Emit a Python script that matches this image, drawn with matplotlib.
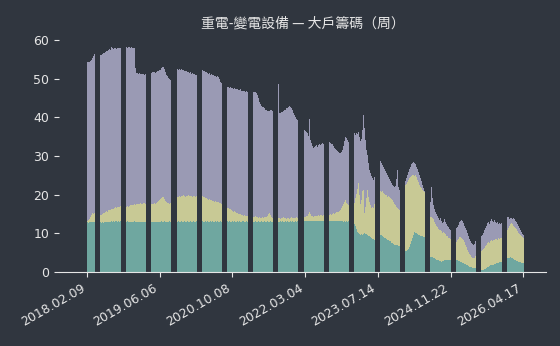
import matplotlib
matplotlib.use("Agg")
import matplotlib.pyplot as plt
import numpy as np

# weekly holder share (%), cumulative: top = all three groups, mid = two, base = largest holders
top_total = [
    54.2, 54.3, 54.4, 54.6, 54.9, 55.4, 55.9, 56.4, 56.2, 56.0,
    56.1, 56.3, 56.2, 56.1, 56.4, 56.7, 56.6, 56.9, 57.1, 57.0,
    57.3, 57.6, 57.4, 58.1, 57.9, 57.7, 57.8, 58.0, 57.6, 57.9,
    57.8, 58.0, 57.8, 57.9, 58.0, 58.1, 58.0, 58.1, 58.0, 58.1,
    58.2, 58.0, 58.1, 57.9, 58.0, 57.8, 52.6, 51.4, 51.5, 51.3,
    51.4, 51.2, 51.3, 51.1, 51.2, 51.0, 51.1, 51.0, 51.2, 51.5,
    51.6, 51.5, 51.7, 51.6, 51.8, 51.5, 51.7, 51.9, 52.0, 52.3,
    52.1, 52.6, 52.9, 53.1, 52.4, 51.6, 51.0, 50.6, 50.2, 49.8,
    49.5, 49.3, 49.6, 50.4, 51.5, 52.0, 52.4, 52.3, 52.5, 52.2,
    52.4, 52.1, 52.3, 52.0, 51.9, 52.0, 51.7, 51.8, 51.5, 51.6,
    51.3, 51.4, 51.1, 51.2, 50.9, 51.0, 50.9, 51.5, 52.0, 52.2,
    52.2, 52.0, 51.9, 51.7, 51.8, 51.5, 51.3, 51.4, 51.0, 51.1,
    50.8, 50.9, 50.6, 50.7, 50.5, 50.6, 50.5, 49.8, 49.2, 48.8,
    48.5, 48.3, 48.1, 47.9, 47.8, 47.7, 47.6, 47.8, 47.5, 47.6,
    47.4, 47.5, 47.3, 47.2, 47.4, 47.1, 47.0, 47.2, 46.9, 46.8,
    46.7, 46.8, 46.6, 46.7, 46.6, 46.5, 46.6, 46.4, 46.5,
    46.5, 46.4, 46.6, 46.3, 45.8, 44.9, 43.9, 43.3, 42.9, 42.6,
    42.7, 42.3, 42.0, 41.8, 41.6, 41.7, 41.5, 41.8, 41.9, 41.6,
    41.3, 41.1, 41.0, 40.9, 48.6, 41.0, 41.2, 41.4, 41.3, 41.6,
    41.8, 42.0, 42.3, 42.5, 42.6, 42.8, 42.6, 42.3, 41.8, 41.2,
    40.6, 40.1, 39.6, 39.4, 39.3, 38.6, 38.0, 37.4, 37.0, 36.7,
    36.5, 36.2, 35.8, 35.1, 39.5, 34.2, 33.3, 32.6, 32.0, 32.3,
    32.5, 32.7, 32.4, 32.8, 33.0, 32.8, 33.1, 33.3, 33.0, 33.4,
    33.6, 33.5, 33.7, 33.6, 33.4, 33.2, 33.0, 32.5, 32.1, 31.8,
    31.6, 31.3, 31.1, 30.8, 30.7, 30.9, 31.5, 32.6, 33.8, 35.0,
    34.6, 34.0, 33.6, 33.3, 33.8, 34.5, 35.2, 35.9, 35.4, 36.0,
    35.6, 36.3, 34.8, 33.9, 34.5, 36.8, 40.6, 37.2, 34.0, 31.5,
    30.2, 28.3, 26.4, 25.5, 24.8, 24.2, 23.8, 24.5, 26.0, 27.5,
    28.5, 29.0, 28.6, 28.2, 27.6, 27.2, 26.6, 26.0, 25.5, 25.1,
    24.6, 24.0, 23.5, 23.0, 22.6, 22.3, 22.0, 22.2, 24.0, 26.4,
    22.0, 21.2, 21.8, 22.5, 23.0, 23.4, 23.6, 24.2, 25.0, 25.8,
    26.5, 27.2, 27.8, 28.3, 28.5, 28.3, 27.9, 27.2, 26.5, 25.8,
    25.0, 24.2, 23.4, 22.6, 21.8, 21.0, 20.8, 19.5, 18.8, 18.4,
    18.2, 22.0, 19.0, 17.3, 16.4, 15.6, 15.1, 14.6, 14.0, 13.4,
    13.9, 13.2, 12.7, 13.0, 13.6, 13.0, 12.5, 12.0, 11.6, 11.1,
    10.9, 11.0, 11.2, 11.0, 11.3, 11.3, 11.6, 12.2, 12.8, 13.1,
    13.4, 13.2, 12.6, 12.0, 11.3, 10.8, 10.0, 9.3, 8.6, 8.0,
    7.5, 7.2, 7.0, 7.3, 8.0, 8.6, 9.0, 9.1, 9.1, 9.3,
    9.6, 10.2, 10.8, 11.4, 12.0, 12.6, 13.0, 12.5, 13.3, 13.6,
    13.2, 12.8, 13.4, 12.9, 12.6, 12.8, 12.5, 12.7, 12.4, 12.6,
    12.8, 13.2, 13.6, 14.0, 14.3, 14.1, 13.8, 14.0, 13.9, 13.7,
    13.9, 13.6, 13.3, 12.8, 12.3, 11.8, 11.3, 10.8, 10.3, 9.9,
    9.5,
]

mid_total = [
    13.2, 13.4, 13.8, 14.3, 14.8, 15.2, 15.0, 15.3, 15.1, 14.9,
    14.8, 14.7, 14.8, 14.7, 15.0, 15.3, 15.2, 15.5, 15.7, 15.6,
    15.9, 16.1, 16.0, 16.3, 16.4, 16.2, 16.6, 16.8, 16.5, 16.9,
    16.8, 16.9, 17.0, 16.8, 16.9, 16.7, 16.8, 16.9, 17.0, 16.9,
    17.1, 17.3, 17.2, 17.4, 17.3, 17.5, 17.4, 17.6, 17.5, 17.7,
    17.6, 17.8, 17.5, 17.7, 17.9, 17.8, 17.6, 17.7, 17.9, 17.8,
    17.8, 17.6, 17.7, 17.5, 17.8, 17.6, 17.9, 18.1, 18.3, 18.6,
    18.9, 19.2, 19.5, 19.3, 18.8, 18.4, 18.1, 17.9, 17.8, 17.7,
    17.8, 17.9, 18.2, 18.6, 19.0, 19.3, 19.5, 19.4, 19.6, 19.5,
    19.7, 19.6, 19.8, 19.7, 19.5, 19.7, 19.6, 19.8, 19.7, 19.6,
    19.7, 19.5, 19.6, 19.7, 19.5, 19.6, 19.7, 19.6, 19.8, 19.7,
    19.7, 19.5, 19.3, 19.1, 19.2, 18.9, 18.7, 18.8, 18.5, 18.6,
    18.4, 18.3, 18.2, 18.3, 18.1, 18.2, 18.0, 17.9, 17.8, 17.7,
    17.6, 17.3, 17.0, 16.8, 16.6, 16.5, 16.3, 16.4, 16.0, 15.8,
    15.6, 15.7, 15.4, 15.2, 15.3, 15.0, 14.9, 15.1, 14.8, 14.7,
    14.6, 14.7, 14.5, 14.6, 14.4, 14.5, 14.3, 14.4, 14.3,
    14.3, 14.2, 14.4, 14.1, 14.2, 14.0, 14.1, 13.9, 14.0, 14.1,
    14.0, 14.2, 14.1, 14.3, 14.6, 15.0, 15.3, 14.8, 14.3, 14.0,
    13.9, 14.0, 13.8, 13.9, 14.0, 13.9, 13.8, 14.0, 13.9, 14.1,
    13.9, 14.0, 13.8, 13.9, 14.0, 13.8, 13.9, 14.1, 13.9, 14.0,
    13.9, 14.0, 14.1, 13.9, 14.0, 14.2, 14.1, 14.3, 14.2, 14.3,
    14.2, 14.4, 14.6, 15.0, 15.5, 15.0, 14.6, 14.4, 14.3, 14.5,
    14.4, 14.6, 14.5, 14.7, 14.6, 14.8, 14.7, 14.6, 14.8, 14.7,
    14.6, 14.8, 14.7, 14.7, 14.9, 14.8, 15.0, 15.2, 15.1, 15.3,
    15.5, 15.4, 15.6, 15.8, 16.1, 16.5, 17.0, 17.6, 18.2, 18.6,
    17.9, 17.5, 17.2, 17.0, 17.4, 17.8, 18.3, 17.8, 19.0, 20.2,
    21.5, 23.0, 19.8, 17.6, 18.5, 20.9, 21.2, 15.2, 16.8, 19.0,
    21.2, 19.4, 18.0, 17.2, 16.6, 16.9, 16.5, 17.5, 18.8, 20.0,
    20.8, 21.2, 21.0, 20.7, 20.9, 20.5, 20.2, 20.0, 19.8, 19.5,
    19.6, 19.3, 19.1, 18.8, 18.5, 18.0, 17.5, 17.2, 16.8, 16.5,
    16.2, 16.0, 17.5, 19.5, 21.0, 22.0, 22.5, 22.8, 23.3, 23.8,
    24.2, 24.6, 24.9, 25.0, 25.1, 24.7, 25.1, 24.5, 23.8, 23.2,
    22.6, 22.0, 21.6, 21.2, 20.9, 20.6, 19.0, 17.0, 15.5, 14.8,
    14.3, 14.1, 14.0, 13.6, 13.0, 12.5, 12.0, 11.6, 11.2, 10.9,
    10.8, 10.5, 10.2, 10.4, 10.0, 9.7, 9.4, 9.2, 8.9, 8.7,
    8.5, 8.2, 8.0, 7.9, 7.8, 7.8, 8.2, 8.6, 9.0, 9.1,
    8.9, 8.6, 8.2, 7.7, 7.1, 6.4, 5.8, 5.2, 4.7, 4.3,
    4.0, 3.7, 3.5, 3.6, 4.1, 4.6, 5.0, 5.2, 5.3, 5.3,
    5.6, 5.9, 6.3, 6.8, 7.1, 7.5, 7.8, 7.6, 8.0, 8.3,
    8.1, 8.4, 8.2, 8.5, 8.6, 8.4, 8.7, 8.5, 8.7, 8.7,
    9.2, 9.8, 10.3, 10.7, 10.9, 11.4, 11.9, 12.3, 12.6, 12.4,
    12.0, 11.7, 11.4, 11.0, 10.6, 10.2, 9.8, 9.6, 9.3, 9.0,
    8.8,
]

base = [
    12.8, 12.7, 12.9, 12.8, 12.9, 13.0, 12.9, 13.0, 12.9, 13.0,
    12.9, 12.8, 12.9, 12.7, 12.8, 12.7, 12.8, 12.9, 12.8, 12.9,
    13.0, 12.9, 13.0, 13.1, 13.0, 13.1, 13.0, 13.2, 13.1, 13.0,
    13.1, 13.0, 13.1, 13.0, 12.9, 13.0, 13.1, 13.0, 13.1, 13.0,
    12.9, 13.0, 13.0, 12.9, 13.0, 13.1, 13.0, 12.9, 13.0, 12.9,
    13.0, 12.9, 13.0, 12.9, 13.0, 12.9, 12.9, 13.0, 12.9, 13.0,
    12.9, 13.0, 13.0, 12.9, 13.0, 12.9, 13.0, 13.0, 12.9, 13.0,
    13.0, 13.1, 13.0, 13.0, 13.1, 13.0, 12.9, 13.0, 13.0, 13.1,
    13.0, 13.1, 13.0, 13.0, 13.1, 13.0, 13.0, 13.1, 13.0, 13.0,
    13.1, 13.0, 13.0, 13.1, 13.0, 13.0, 13.1, 13.0, 13.0, 13.1,
    13.0, 13.0, 13.1, 13.0, 13.0, 13.1, 13.0, 13.0, 13.1, 13.0,
    13.1, 13.0, 13.0, 13.1, 13.0, 13.1, 13.0, 13.0, 13.1, 13.0,
    13.1, 13.0, 13.0, 13.1, 13.0, 13.1, 13.0, 13.0, 13.1, 13.0,
    13.0, 13.1, 13.0, 13.0, 13.1, 13.0, 13.1, 13.0, 13.0, 13.1,
    13.0, 13.1, 13.0, 13.0, 13.1, 13.0, 13.1, 13.0, 13.0, 13.1,
    13.1, 13.0, 13.0, 13.1, 13.0, 13.1, 13.0, 13.0, 13.1,
    13.0, 13.0, 13.1, 13.0, 13.0, 13.1, 13.0, 13.0, 13.1, 13.0,
    13.0, 13.1, 13.0, 13.0, 13.1, 13.0, 13.0, 13.1, 13.0, 13.0,
    13.1, 13.0, 13.0, 13.1, 13.0, 13.0, 13.1, 13.0, 13.1, 13.0,
    13.0, 13.1, 13.0, 13.1, 13.0, 13.0, 13.1, 13.0, 13.1, 13.0,
    13.0, 13.1, 13.0, 13.1, 13.0, 13.1, 13.2, 13.1, 13.2, 13.1,
    13.2, 13.1, 13.2, 13.1, 13.2, 13.1, 13.2, 13.1, 13.2, 13.1,
    13.2, 13.1, 13.2, 13.2, 13.1, 13.2, 13.1, 13.2, 13.1, 13.2,
    13.1, 13.2, 13.1, 13.2, 13.1, 13.2, 13.1, 13.2, 13.1, 13.2,
    13.1, 13.2, 13.1, 13.2, 13.1, 13.2, 13.1, 13.0, 13.1, 13.0,
    13.1, 13.0, 13.1, 13.0, 13.1, 13.0, 13.0, 12.5, 11.8, 11.0,
    10.3, 10.0, 9.8, 9.6, 9.7, 9.5, 9.8, 10.1, 9.9, 9.7,
    9.6, 9.4, 9.2, 9.0, 8.8, 8.6, 8.5, 8.4, 8.8, 9.2,
    9.5, 9.6, 9.6, 9.5, 9.3, 9.0, 8.8, 8.9, 8.6, 8.4,
    8.2, 8.0, 7.9, 7.6, 7.4, 7.3, 7.1, 7.0, 6.9, 7.0,
    6.8, 6.6, 6.2, 5.8, 5.5, 5.3, 5.3, 5.4, 5.6, 5.9,
    6.5, 7.2, 8.0, 8.8, 9.6, 10.4, 10.0, 10.2, 9.8, 9.6,
    9.5, 9.4, 9.3, 9.2, 9.1, 9.1, 8.0, 6.5, 5.2, 4.4,
    4.0, 3.9, 3.8, 3.6, 3.5, 3.4, 3.2, 3.1, 3.0, 2.9,
    2.8, 2.7, 2.8, 2.9, 3.0, 3.1, 3.0, 3.2, 3.1, 3.0,
    3.1, 3.1, 3.0, 3.1, 3.1, 3.1, 3.0, 2.9, 2.8, 2.7,
    2.5, 2.4, 2.3, 2.1, 2.0, 1.8, 1.7, 1.5, 1.4, 1.3,
    1.2, 1.1, 1.0, 1.0, 1.0, 0.9, 0.8, 0.7, 0.6, 0.5,
    0.5, 0.6, 0.7, 0.8, 1.0, 1.2, 1.4, 1.6, 1.8, 1.7,
    1.8, 1.9, 2.0, 2.1, 2.2, 2.3, 2.4, 2.5, 2.5, 2.6,
    2.8, 3.0, 3.2, 3.4, 3.5, 3.6, 3.7, 3.8, 3.7, 3.6,
    3.4, 3.2, 3.0, 2.9, 2.8, 2.7, 2.6, 2.5, 2.4, 2.3,
    2.2,
]

tick_labels = ['2018.02.09', '2019.06.06', '2020.10.08', '2022.03.04',
               '2023.07.14', '2024.11.22', '2026.04.17']

bg = '#30363f'
fg = '#e6e6e6'

fig = plt.figure(figsize=(5.6, 3.46), dpi=100, facecolor=bg)
ax = fig.add_axes([59 / 560, 1 - 272 / 346, 487 / 560, 236 / 346])
ax.set_facecolor(bg)

x = np.arange(len(top_total))
ax.bar(x, top_total, width=0.8, color='#9a9ab4', linewidth=0)
ax.bar(x, mid_total, width=0.8, color='#c8c995', linewidth=0)
ax.bar(x, base, width=0.8, color='#6fa7a0', linewidth=0)

n = len(top_total)
ax.set_xlim(-27.47, 440.35)
ax.set_ylim(0, 61)
ax.set_yticks([0, 10, 20, 30, 40, 50, 60])
ax.set_xticks(np.linspace(-0.5, n - 1.5, len(tick_labels)))
ax.set_xticklabels(tick_labels, rotation=30, ha='right')

for s in ['top', 'right', 'left']:
    ax.spines[s].set_visible(False)
ax.spines['bottom'].set_color(fg)
ax.tick_params(colors=fg, labelsize=9, length=3.5)

ax.set_title('重電-變電設備 — 大戶籌碼（周）', color=fg, fontsize=10, pad=6,
             family=['Noto Sans CJK TC', 'DejaVu Sans'])

fig.savefig('out.png', dpi=100, facecolor=bg)
